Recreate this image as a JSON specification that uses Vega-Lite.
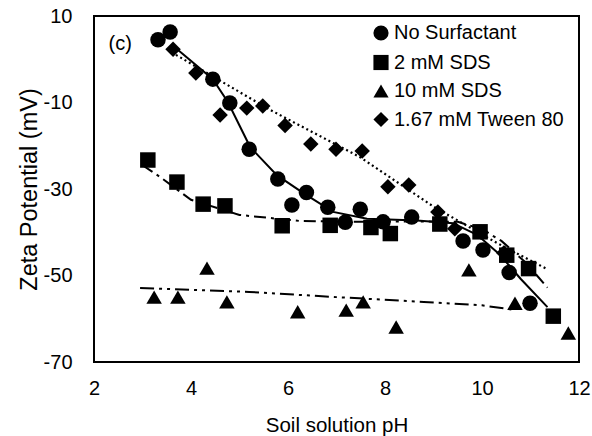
{
  "$schema": "https://vega.github.io/schema/vega-lite/v6.json",
  "width": 485,
  "height": 346,
  "autosize": {"type": "none"},
  "padding": {"left": 94, "top": 16, "right": 13, "bottom": 74},
  "background": "white",
  "config": {
    "view": {"stroke": "black", "strokeWidth": 2},
    "font": "Liberation Sans",
    "axis": {"grid": false, "ticks": false, "domain": false, "labelFont": "Liberation Sans", "titleFont": "Liberation Sans", "labelColor": "black", "titleColor": "black", "titleFontWeight": "normal", "labelFlush": false, "labelOverlap": false}
  },
  "datasets": {
    "points": [
      {"series": "No Surfactant", "ph": 3.32, "zeta": 4.5},
      {"series": "No Surfactant", "ph": 3.57, "zeta": 6.3},
      {"series": "No Surfactant", "ph": 4.45, "zeta": -4.6},
      {"series": "No Surfactant", "ph": 4.80, "zeta": -10.1},
      {"series": "No Surfactant", "ph": 5.20, "zeta": -20.8},
      {"series": "No Surfactant", "ph": 5.79, "zeta": -27.7},
      {"series": "No Surfactant", "ph": 6.08, "zeta": -33.7},
      {"series": "No Surfactant", "ph": 6.38, "zeta": -30.8},
      {"series": "No Surfactant", "ph": 6.82, "zeta": -34.2},
      {"series": "No Surfactant", "ph": 7.18, "zeta": -37.7},
      {"series": "No Surfactant", "ph": 7.49, "zeta": -34.7},
      {"series": "No Surfactant", "ph": 7.96, "zeta": -37.6},
      {"series": "No Surfactant", "ph": 8.55, "zeta": -36.5},
      {"series": "No Surfactant", "ph": 9.61, "zeta": -42.0},
      {"series": "No Surfactant", "ph": 10.02, "zeta": -44.1},
      {"series": "No Surfactant", "ph": 10.56, "zeta": -49.3},
      {"series": "No Surfactant", "ph": 10.99, "zeta": -56.4},
      {"series": "2 mM SDS", "ph": 3.11, "zeta": -23.3},
      {"series": "2 mM SDS", "ph": 3.71, "zeta": -28.4},
      {"series": "2 mM SDS", "ph": 4.25, "zeta": -33.5},
      {"series": "2 mM SDS", "ph": 4.70, "zeta": -33.9},
      {"series": "2 mM SDS", "ph": 5.88, "zeta": -38.5},
      {"series": "2 mM SDS", "ph": 6.87, "zeta": -38.4},
      {"series": "2 mM SDS", "ph": 7.71, "zeta": -38.9},
      {"series": "2 mM SDS", "ph": 8.11, "zeta": -40.3},
      {"series": "2 mM SDS", "ph": 9.13, "zeta": -38.1},
      {"series": "2 mM SDS", "ph": 9.96, "zeta": -39.9},
      {"series": "2 mM SDS", "ph": 10.51, "zeta": -45.3},
      {"series": "2 mM SDS", "ph": 10.96, "zeta": -48.4},
      {"series": "2 mM SDS", "ph": 11.47, "zeta": -59.4},
      {"series": "10 mM SDS", "ph": 3.24, "zeta": -55.0},
      {"series": "10 mM SDS", "ph": 3.73, "zeta": -55.0},
      {"series": "10 mM SDS", "ph": 4.33, "zeta": -48.3},
      {"series": "10 mM SDS", "ph": 4.74, "zeta": -56.1},
      {"series": "10 mM SDS", "ph": 6.20, "zeta": -58.4},
      {"series": "10 mM SDS", "ph": 7.20, "zeta": -58.0},
      {"series": "10 mM SDS", "ph": 7.55, "zeta": -56.1},
      {"series": "10 mM SDS", "ph": 8.23, "zeta": -61.9},
      {"series": "10 mM SDS", "ph": 9.73, "zeta": -48.7},
      {"series": "10 mM SDS", "ph": 10.68, "zeta": -56.4},
      {"series": "10 mM SDS", "ph": 11.78, "zeta": -63.3},
      {"series": "1.67 mM Tween 80", "ph": 3.63, "zeta": 2.3},
      {"series": "1.67 mM Tween 80", "ph": 4.10, "zeta": -3.2},
      {"series": "1.67 mM Tween 80", "ph": 4.60, "zeta": -12.9},
      {"series": "1.67 mM Tween 80", "ph": 5.15, "zeta": -11.3},
      {"series": "1.67 mM Tween 80", "ph": 5.48, "zeta": -10.8},
      {"series": "1.67 mM Tween 80", "ph": 5.94, "zeta": -15.3},
      {"series": "1.67 mM Tween 80", "ph": 6.47, "zeta": -19.6},
      {"series": "1.67 mM Tween 80", "ph": 6.99, "zeta": -20.8},
      {"series": "1.67 mM Tween 80", "ph": 7.53, "zeta": -21.2},
      {"series": "1.67 mM Tween 80", "ph": 8.06, "zeta": -29.5},
      {"series": "1.67 mM Tween 80", "ph": 8.49, "zeta": -29.1},
      {"series": "1.67 mM Tween 80", "ph": 9.09, "zeta": -35.3},
      {"series": "1.67 mM Tween 80", "ph": 9.44, "zeta": -39.2},
      {"series": "1.67 mM Tween 80", "ph": 9.98, "zeta": -40.0},
      {"series": "1.67 mM Tween 80", "ph": 10.45, "zeta": -44.8}
    ],
    "fits": [
      {"curve": "No Surfactant", "ph": 3.61, "zeta": 3.3},
      {"curve": "No Surfactant", "ph": 4.45, "zeta": -4.6},
      {"curve": "No Surfactant", "ph": 4.76, "zeta": -9.9},
      {"curve": "No Surfactant", "ph": 5.22, "zeta": -20.3},
      {"curve": "No Surfactant", "ph": 5.77, "zeta": -26.8},
      {"curve": "No Surfactant", "ph": 6.31, "zeta": -30.9},
      {"curve": "No Surfactant", "ph": 6.93, "zeta": -35.3},
      {"curve": "No Surfactant", "ph": 7.63, "zeta": -36.9},
      {"curve": "No Surfactant", "ph": 8.66, "zeta": -37.3},
      {"curve": "No Surfactant", "ph": 9.4, "zeta": -37.9},
      {"curve": "No Surfactant", "ph": 9.9, "zeta": -40.6},
      {"curve": "No Surfactant", "ph": 10.37, "zeta": -45.2},
      {"curve": "No Surfactant", "ph": 10.8, "zeta": -50.8},
      {"curve": "No Surfactant", "ph": 11.35, "zeta": -57.3},
      {"curve": "2 mM SDS", "ph": 3.0, "zeta": -24.5},
      {"curve": "2 mM SDS", "ph": 3.36, "zeta": -27.2},
      {"curve": "2 mM SDS", "ph": 4.0, "zeta": -32.5},
      {"curve": "2 mM SDS", "ph": 5.0, "zeta": -36.0},
      {"curve": "2 mM SDS", "ph": 6.25, "zeta": -37.4},
      {"curve": "2 mM SDS", "ph": 7.5, "zeta": -37.6},
      {"curve": "2 mM SDS", "ph": 8.5, "zeta": -37.5},
      {"curve": "2 mM SDS", "ph": 9.5, "zeta": -37.6},
      {"curve": "2 mM SDS", "ph": 10.0, "zeta": -39.3},
      {"curve": "2 mM SDS", "ph": 10.4, "zeta": -42.0},
      {"curve": "2 mM SDS", "ph": 10.9, "zeta": -47.0},
      {"curve": "2 mM SDS", "ph": 11.35, "zeta": -52.8},
      {"curve": "10 mM SDS", "ph": 2.95, "zeta": -52.9},
      {"curve": "10 mM SDS", "ph": 5.2, "zeta": -53.8},
      {"curve": "10 mM SDS", "ph": 7.0, "zeta": -55.0},
      {"curve": "10 mM SDS", "ph": 8.8, "zeta": -56.1},
      {"curve": "10 mM SDS", "ph": 10.0, "zeta": -56.9},
      {"curve": "10 mM SDS", "ph": 10.7, "zeta": -58.0},
      {"curve": "1.67 mM Tween 80", "ph": 3.6, "zeta": 1.6},
      {"curve": "1.67 mM Tween 80", "ph": 5.63, "zeta": -11.7},
      {"curve": "1.67 mM Tween 80", "ph": 7.48, "zeta": -22.6},
      {"curve": "1.67 mM Tween 80", "ph": 8.99, "zeta": -34.0},
      {"curve": "1.67 mM Tween 80", "ph": 10.31, "zeta": -42.5},
      {"curve": "1.67 mM Tween 80", "ph": 11.34, "zeta": -48.5}
    ],
    "labels": [
      {"ph": 2.54, "zeta": 3.5, "text": "(c)"}
    ]
  },
  "encoding": {
    "x": {"field": "ph", "type": "quantitative", "scale": {"domain": [2, 12], "nice": false, "zero": false},
          "axis": {"values": [2, 4, 6, 8, 10, 12], "labelFontSize": 20, "labelPadding": 16, "title": "Soil solution pH", "titleFontSize": 20.5, "titlePadding": 17}},
    "y": {"field": "zeta", "type": "quantitative", "scale": {"domain": [-70, 10], "nice": false, "zero": false},
          "axis": {"values": [10, -10, -30, -50, -70], "labelExpr": "datum.value + ''", "labelFontSize": 20, "labelPadding": 22, "title": "Zeta Potential (mV)", "titleFontSize": 23.5, "titlePadding": 2}}
  },
  "layer": [
    {
      "data": {"name": "fits"},
      "transform": [{"filter": "datum.curve === 'No Surfactant'"}],
      "mark": {"type": "line", "color": "black", "strokeWidth": 2}
    },
    {
      "data": {"name": "fits"},
      "transform": [{"filter": "datum.curve === '2 mM SDS'"}],
      "mark": {"type": "line", "color": "black", "strokeWidth": 2, "strokeDash": [12, 5, 3, 5]}
    },
    {
      "data": {"name": "fits"},
      "transform": [{"filter": "datum.curve === '10 mM SDS'"}],
      "mark": {"type": "line", "color": "black", "strokeWidth": 2, "strokeDash": [14, 5, 3, 5, 3, 5]}
    },
    {
      "data": {"name": "fits"},
      "transform": [{"filter": "datum.curve === '1.67 mM Tween 80'"}],
      "mark": {"type": "line", "color": "black", "strokeWidth": 2.2, "strokeDash": [2, 3]}
    },
    {
      "data": {"name": "points"},
      "mark": {"type": "point", "filled": true, "color": "black", "opacity": 1, "size": 240},
      "encoding": {
        "shape": {"field": "series", "type": "nominal",
          "scale": {"domain": ["No Surfactant", "2 mM SDS", "10 mM SDS", "1.67 mM Tween 80"], "range": ["circle", "square", "triangle-up", "diamond"]},
          "legend": {"orient": "none", "legendX": 277, "legendY": 7, "title": null, "labelFontSize": 20, "labelFont": "Liberation Sans", "labelColor": "black", "labelLimit": 400, "symbolSize": 230, "rowPadding": 7.5, "labelOffset": 3, "padding": 0,
            "encode": {"labels": {"update": {"fontStyle": {"signal": "datum.label === 'No Surfactant' ? 'italic' : 'normal'"}, "dy": {"value": -3}}}}}
        }
      }
    },
    {
      "data": {"name": "labels"},
      "mark": {"type": "text", "fontSize": 20, "font": "Liberation Sans", "color": "black"},
      "encoding": {
        "text": {"field": "text"}
      }
    }
  ]
}
